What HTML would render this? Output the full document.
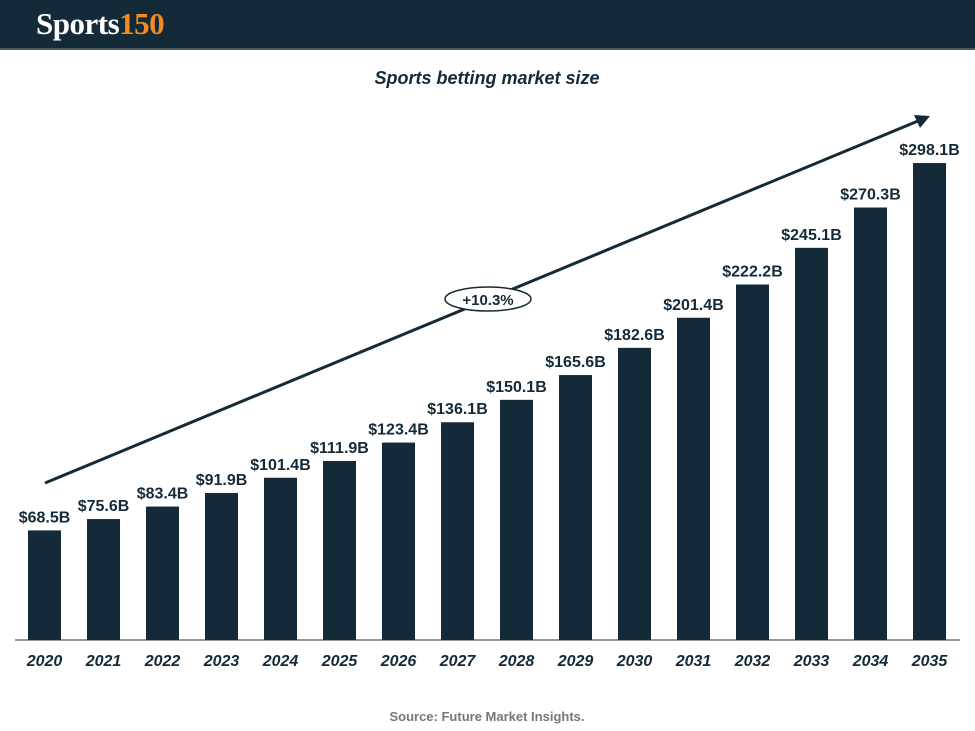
<!DOCTYPE html>
<html><head><meta charset="utf-8"><style>
html,body{margin:0;padding:0;background:#fff;}
body{width:975px;height:731px;position:relative;overflow:hidden;font-family:"Liberation Sans",sans-serif;}
#hdr{position:absolute;left:0;top:0;width:975px;height:50px;background:#152a38;border-bottom:2px solid #4a5a63;box-sizing:border-box;}
#logo{position:absolute;left:36px;top:6px;font-family:"Liberation Serif",serif;font-weight:bold;font-size:31px;color:#fff;letter-spacing:-0.5px;}
#logo span{color:#f28a21;}
</style></head><body>
<div id="hdr"><div id="logo">Sports<span>150</span></div></div>
<svg id="chart" width="975" height="731" style="position:absolute;left:0;top:0">
<text x="487" y="84" text-anchor="middle" font-weight="bold" font-style="italic" font-size="18" fill="#152a38">Sports betting market size</text>
<line x1="15" y1="640" x2="960" y2="640" stroke="#777" stroke-width="1.5"/>
<g id="bars"></g>
<line x1="45" y1="483" x2="918" y2="121" stroke="#152a38" stroke-width="3"/>
<polygon points="930,116 914,115 920,128" fill="#152a38"/>
<ellipse cx="488" cy="299" rx="43" ry="12" fill="#fff" stroke="#152a38" stroke-width="1.5"/>
<text x="488" y="305" text-anchor="middle" font-weight="bold" font-size="15" fill="#152a38">+10.3%</text>
<text x="487" y="721" text-anchor="middle" font-weight="bold" font-size="13" fill="#777">Source: Future Market Insights.</text>
</svg>
<script>
const years=["2020","2021","2022","2023","2024","2025","2026","2027","2028","2029","2030","2031","2032","2033","2034","2035"];
const values=[68.5,75.6,83.4,91.9,101.4,111.9,123.4,136.1,150.1,165.6,182.6,201.4,222.2,245.1,270.3,298.1];
const valueLabels=["$68.5B","$75.6B","$83.4B","$91.9B","$101.4B","$111.9B","$123.4B","$136.1B","$150.1B","$165.6B","$182.6B","$201.4B","$222.2B","$245.1B","$270.3B","$298.1B"];
const NS="http://www.w3.org/2000/svg";
const g=document.getElementById('bars');
function xPos(i){return 28+i*59;}
function yPos(v){return 640-v*1.6;}
const bw=33;
years.forEach((yr,i)=>{
  const r=document.createElementNS(NS,'rect');
  r.setAttribute('x',xPos(i));r.setAttribute('y',yPos(values[i]));
  r.setAttribute('width',bw);r.setAttribute('height',640-yPos(values[i]));
  r.setAttribute('fill','#152a38');
  
  
  g.appendChild(r);
  const t=document.createElementNS(NS,'text');
  t.setAttribute('x',xPos(i)+bw/2);t.setAttribute('y',yPos(values[i])-8);
  t.setAttribute('text-anchor','middle');t.setAttribute('font-weight','bold');
  t.setAttribute('font-size','16');t.setAttribute('fill','#152a38');
  t.textContent=valueLabels[i];
  
  
  g.appendChild(t);
  const l=document.createElementNS(NS,'text');
  l.setAttribute('x',xPos(i)+bw/2);l.setAttribute('y',666);
  l.setAttribute('text-anchor','middle');l.setAttribute('font-weight','bold');
  l.setAttribute('font-style','italic');
  l.setAttribute('font-size','16');l.setAttribute('fill','#152a38');
  l.textContent=yr;
  
  
  g.appendChild(l);
});
</script>
</body></html>
